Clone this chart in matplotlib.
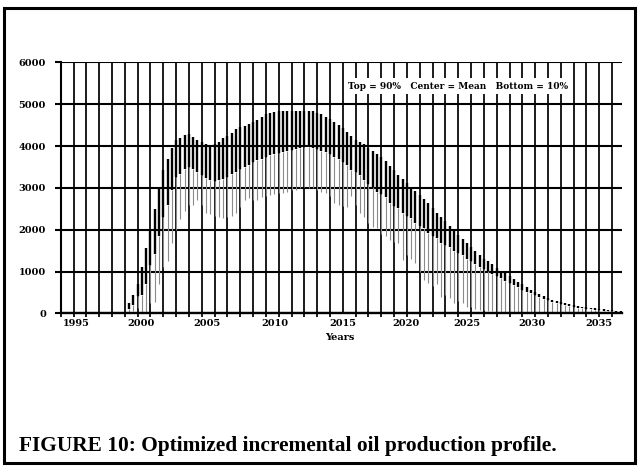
import numpy as np
import matplotlib
matplotlib.use("Agg")
import matplotlib.pyplot as plt
from matplotlib.patches import Rectangle

# production forecast, one value every 4 months (1999.33 .. 2037.67)
p90 = [240, 440, 700, 1120, 1570, 2000, 2500, 3000, 3430, 3700,
       3950, 4150, 4200, 4260, 4280, 4220, 4150, 4100, 4060, 3990,
       4050, 4100, 4180, 4250, 4320, 4400, 4450, 4480, 4520, 4580,
       4630, 4700, 4760, 4790, 4820, 4830, 4830, 4830, 4840, 4840,
       4840, 4840, 4840, 4830, 4800, 4770, 4700, 4640, 4580, 4500,
       4420, 4330, 4230, 4150, 4100, 4050, 3960, 3870, 3810, 3730,
       3650, 3520, 3420, 3310, 3200, 3110, 3030, 2930, 2830, 2730,
       2630, 2520, 2410, 2310, 2200, 2100, 1980, 1880, 1780, 1670,
       1580, 1500, 1390, 1310, 1240, 1170, 1090, 1010, 960, 890,
       820, 740, 690, 640, 570, 520, 460, 410, 370, 330,
       300, 270, 240, 215, 195, 175, 160, 145, 135, 120,
       110, 96, 80, 72, 64, 56]

mean = [100, 200, 420, 450, 700, 1150, 1430, 1850, 2300, 2600,
        2950, 3250, 3320, 3450, 3500, 3450, 3380, 3300, 3230, 3180,
        3170, 3180, 3200, 3260, 3340, 3390, 3450, 3500, 3550, 3610,
        3660, 3700, 3740, 3780, 3820, 3840, 3860, 3890, 3910, 3940,
        3960, 3970, 3980, 3960, 3930, 3880, 3850, 3800, 3730, 3680,
        3620, 3540, 3430, 3380, 3300, 3190, 3100, 3030, 2910, 2850,
        2790, 2630, 2570, 2510, 2390, 2330, 2270, 2150, 2090, 2030,
        1910, 1850, 1790, 1690, 1630, 1580, 1500, 1440, 1390, 1310,
        1250, 1190, 1110, 1060, 1010, 950, 890, 840, 780, 730,
        680, 620, 570, 520, 480, 430, 380, 340, 310, 280,
        240, 220, 200, 175, 155, 135, 120, 110, 95, 80,
        70, 64, 50, 45, 40, 32]

p10 = [0, 60, 120, 0, 0, 250, 280, 700, 1100, 1240,
       1680, 2000, 2260, 2450, 2600, 2590, 2700, 2600, 2400, 2380,
       2320, 2300, 2280, 2300, 2320, 2400, 2550, 2700, 2750, 2700,
       2720, 2790, 2800, 2830, 2850, 2870, 2870, 2900, 2950, 2960,
       3000, 3020, 3000, 3000, 2950, 2910, 2870, 2800, 2630, 2600,
       2570, 2550, 2800, 2600, 2390, 2300, 2150, 2070, 2030, 1900,
       1850, 1750, 1700, 1670, 1280, 1400, 1300, 1200, 1000, 800,
       720, 650, 700, 400, 450, 360, 240, 300, 250, 160,
       150, 100, 80, 70, 60, 50, 40, 30, 30, 20,
       20, 10, 10, 0, 0, 0, 0, 0, 0, 0,
       0, 0, 0, 0, 0, 0, 0, 0, 0, 0,
       0, 0, 0, 0, 0, 0]

t = 1999 + (np.arange(len(p90)) + 1) / 3.0

year_labels = ["1995", "2000", "2005", "2010", "2015", "2020", "2025", "2030", "2035"]
label_pos = [1995.25, 2000.24, 2005.39, 2010.72, 2016.0, 2020.93, 2025.67, 2030.74, 2035.93]

small = dict(family="DejaVu Serif", weight="bold", size=7)

fig = plt.figure(figsize=(6.39, 4.67), dpi=100)
ax = fig.add_axes([0.095, 0.329, 0.878, 0.5375])

# grid: one vertical line per year, horizontal every 1000
for yr in range(1994, 2038):
    ax.axvline(yr, color="black", lw=1.25, zorder=1)
for v in range(0, 7000, 1000):
    ax.axhline(v, color="black", lw=1.5, zorder=1)

# mean -> 10% thin grey, 90% -> mean thick black
ax.vlines(t, p10, mean, color="#8a8a8a", lw=0.8, zorder=2)
ax.vlines(t, mean, p90, color="black", lw=1.7, zorder=3)

ax.set_xlim(1994, 2037.75)
ax.set_ylim(0, 6000)

ax.set_xticks(range(1994, 2038), minor=True)
ax.set_xticks(label_pos)
ax.set_xticklabels(year_labels, **small)
ax.tick_params(axis="x", which="minor", direction="out", length=3, width=1.25)
ax.tick_params(axis="x", which="major", length=0, pad=4)

ax.set_yticks(range(0, 7000, 1000))
ax.set_yticklabels([str(v) for v in range(0, 7000, 1000)], **small)
ax.tick_params(axis="y", direction="out", length=4.5, width=1.5, pad=6)

for s in ["top", "right"]:
    ax.spines[s].set_visible(False)
ax.spines["left"].set_linewidth(1.5)
ax.spines["bottom"].set_linewidth(1.7)

ax.text(0.512, 0.905, "Top = 90%   Center = Mean   Bottom = 10%",
        transform=ax.transAxes, ha="left", va="center", zorder=5,
        bbox=dict(facecolor="white", edgecolor="none", pad=2.5),
        family="DejaVu Serif", weight="bold", size=6.5)

fig.text(340 / 639, 1 - 338 / 467, "Years", ha="center", va="center", **small)

fig.text(19 / 639, 1 - 446 / 467,
         "FIGURE 10: Optimized incremental oil production profile.",
         family="Liberation Serif", weight="bold", size=15.4,
         ha="left", va="center")

fig.patches.append(Rectangle((0.007, 0.008), 0.9875, 0.975, transform=fig.transFigure,
                             fill=False, edgecolor="black", lw=2.2))

fig.savefig("out.png", dpi=100)
